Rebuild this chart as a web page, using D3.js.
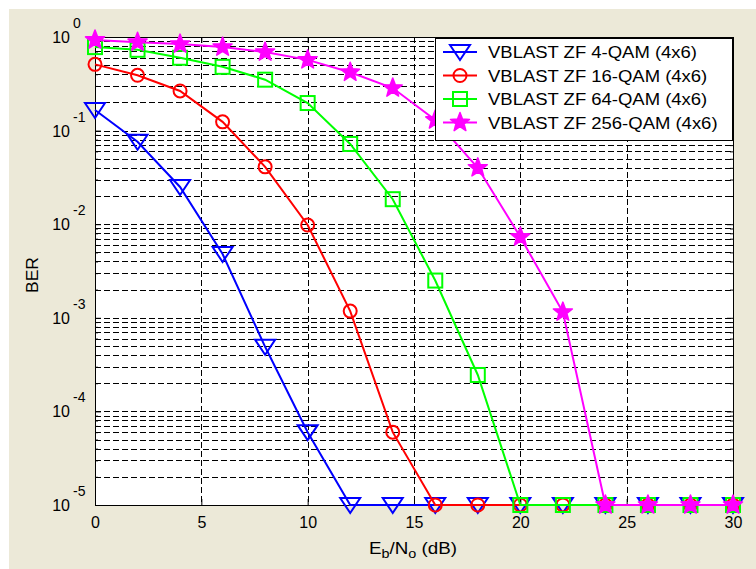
<!DOCTYPE html>
<html>
<head>
<meta charset="utf-8">
<script src="https://cdn.jsdelivr.net/npm/d3@7"></script>
<style>
  body { margin: 0; background: #fff; }
  text { font-family: "Liberation Sans", Arial, sans-serif; }
</style>
</head>
<body>
<div class="chart"></div>
<script>
// Eb/No values (dB)
var snr = [0, 2, 4, 6, 8, 10, 12, 14, 16, 18, 20, 22, 24, 26, 28, 30];

// BER values
var ber4 = [0.166, 0.076, 0.025, 0.0048, 0.00049, 0.00006, 1e-5, 1e-5, 1e-5, 1e-5, 1e-5, 1e-5, 1e-5, 1e-5, 1e-5, 1e-5];
var ber16 = [0.51, 0.39, 0.265, 0.124, 0.041, 0.0098, 0.00118, 0.00006, 1e-5, 1e-5, 1e-5, 1e-5, 1e-5, 1e-5, 1e-5, 1e-5];
var ber64 = [0.78, 0.73, 0.6, 0.48, 0.35, 0.197, 0.072, 0.0185, 0.0025, 0.000245, 1e-5, 1e-5, 1e-5, 1e-5, 1e-5, 1e-5];
var ber256 = [0.93, 0.88, 0.84, 0.78, 0.69, 0.57, 0.42, 0.285, 0.13, 0.04, 0.0073, 0.00115, 1e-5, 1e-5, 1e-5, 1e-5];

var seriesNames = ["VBLAST ZF 4-QAM (4x6)", "VBLAST ZF 16-QAM (4x6)", "VBLAST ZF 64-QAM (4x6)", "VBLAST ZF 256-QAM (4x6)"];
var xTicks = [0, 5, 10, 15, 20, 25, 30];
var yTicks = [0, -1, -2, -3, -4, -5]; // exponents

var series = [
    { name: seriesNames[0], values: ber4, color: "#0000ff", marker: "tri" },
    { name: seriesNames[1], values: ber16, color: "#ff0000", marker: "circle" },
    { name: seriesNames[2], values: ber64, color: "#00ff00", marker: "square" },
    { name: seriesNames[3], values: ber256, color: "#ff00ff", marker: "star" }
];

var svgWidth = 756, svgHeight = 569;
var margin = { top: 37, left: 95, right: 23, bottom: 64 };
var width = svgWidth - margin.left - margin.right;
var height = svgHeight - margin.top - margin.bottom;

var svg = d3.select(".chart").append("svg")
    .attr("width", svgWidth)
    .attr("height", svgHeight);

// figure background
svg.append("rect")
    .attr("x", 9).attr("y", 9)
    .attr("width", svgWidth - 9).attr("height", svgHeight - 9)
    .attr("fill", "#ece9d8");

var chartGroup = svg.append("g")
    .attr("transform", `translate(${margin.left}, ${margin.top})`);

var xScale = d3.scaleLinear().domain([0, 30]).range([0, width]);
var yScale = d3.scaleLog().domain([1e-5, 1]).range([height, 0]);

chartGroup.append("rect")
    .attr("width", width).attr("height", height)
    .attr("fill", "#fff");

// minor log values
var minor = [];
for (var e = -5; e < 0; e++) {
    for (var m = 2; m <= 9; m++) minor.push(m * Math.pow(10, e));
}
var majorY = yTicks.map(d => Math.pow(10, d));

// grid
var grid = chartGroup.append("g")
    .attr("stroke", "#000")
    .attr("stroke-width", 1)
    .attr("stroke-dasharray", "6,3")
    .attr("shape-rendering", "crispEdges");

grid.selectAll(".hy")
    .data(minor.concat(majorY.slice(1, 5)))
    .enter().append("line")
    .attr("x1", 0).attr("x2", width)
    .attr("y1", d => Math.round(yScale(d)) + 0.5)
    .attr("y2", d => Math.round(yScale(d)) + 0.5);

grid.selectAll(".vx")
    .data(xTicks.slice(1, 6))
    .enter().append("line")
    .attr("y1", 0).attr("y2", height)
    .attr("x1", d => Math.round(xScale(d)) + 0.5)
    .attr("x2", d => Math.round(xScale(d)) + 0.5);

// axes (ticks inside, box on)
var bottomAxis = d3.axisBottom(xScale).tickValues(xTicks).tickSize(-6).tickPadding(12).tickFormat(d3.format("d"));
var topAxis = d3.axisTop(xScale).tickValues(xTicks).tickSize(-6).tickFormat("");
var leftAxis = d3.axisLeft(yScale).tickValues(majorY).tickSize(-6).tickFormat("");
var rightAxis = d3.axisRight(yScale).tickValues(majorY).tickSize(-6).tickFormat("");
var leftMinor = d3.axisLeft(yScale).tickValues(minor).tickSize(-3).tickFormat("");
var rightMinor = d3.axisRight(yScale).tickValues(minor).tickSize(-3).tickFormat("");

function styleAxis(g) {
    g.select(".domain").remove();
    g.selectAll("line").attr("stroke", "#000");
    g.selectAll("text").attr("font-size", 16).attr("fill", "#000")
        .attr("font-family", "'Liberation Sans', Arial, sans-serif");
}

chartGroup.append("g").attr("transform", `translate(0, ${height})`).call(bottomAxis).call(styleAxis);
chartGroup.append("g").call(topAxis).call(styleAxis);
chartGroup.append("g").call(leftAxis).call(styleAxis);
chartGroup.append("g").attr("transform", `translate(${width}, 0)`).call(rightAxis).call(styleAxis);
chartGroup.append("g").call(leftMinor).call(styleAxis);
chartGroup.append("g").attr("transform", `translate(${width}, 0)`).call(rightMinor).call(styleAxis);

// frame
chartGroup.append("rect")
    .attr("x", 0.5).attr("y", 0.5)
    .attr("width", width).attr("height", height)
    .attr("fill", "none").attr("stroke", "#000")
    .attr("shape-rendering", "crispEdges");

// y tick labels 10^e
yTicks.forEach(function (e) {
    var y = yScale(Math.pow(10, e));
    chartGroup.append("text")
        .attr("font-size", 16)
        .attr("fill", "#000")
        .attr("x", -25).attr("y", y + 6)
        .attr("text-anchor", "end")
        .text("10");
    chartGroup.append("text")
        .attr("font-size", 14)
        .attr("fill", "#000")
        .attr("x", -22).attr("y", y - 9)
        .text(e === 0 ? "0" : "-" + Math.abs(e));
});

// axis titles
svg.append("text")
    .attr("transform", `translate(38, ${margin.top + height / 2 + 4}) rotate(-90)`)
    .attr("text-anchor", "middle")
    .attr("font-size", 17)
    .attr("textLength", 36)
    .attr("lengthAdjust", "spacingAndGlyphs")
    .text("BER");

var xl = svg.append("text")
    .attr("x", 369)
    .attr("y", 554)
    .attr("font-size", 17);
xl.append("tspan").text("E");
xl.append("tspan").attr("dy", 4).attr("font-size", 13).text("b");
xl.append("tspan").attr("dy", -4).text("/N");
xl.append("tspan").attr("dy", 4).attr("font-size", 13).text("o");
xl.append("tspan").attr("dy", -4).text(" (dB)");
xl.attr("textLength", 88).attr("lengthAdjust", "spacingAndGlyphs");

// markers
function starPath(r) {
    var pts = [];
    for (var i = 0; i < 10; i++) {
        var rr = i % 2 === 0 ? r : r * 0.42;
        var a = -Math.PI / 2 + i * Math.PI / 5;
        pts.push([rr * Math.cos(a), rr * Math.sin(a)]);
    }
    return "M" + pts.map(p => p.join(",")).join("L") + "Z";
}

function drawMarker(g, type, color) {
    if (type === "tri") {
        g.append("path").attr("d", "M-10,-7L10,-7L0,8Z")
            .attr("fill", "none").attr("stroke", color).attr("stroke-width", 2);
    } else if (type === "circle") {
        g.append("circle").attr("r", 6.5)
            .attr("fill", "none").attr("stroke", color).attr("stroke-width", 2);
    } else if (type === "square") {
        g.append("rect").attr("x", -7).attr("y", -7).attr("width", 14).attr("height", 14)
            .attr("fill", "none").attr("stroke", color).attr("stroke-width", 2);
    } else {
        g.append("path").attr("d", starPath(10))
            .attr("fill", color).attr("stroke", color).attr("stroke-width", 1.5)
            .attr("stroke-linejoin", "round");
    }
}

var line = d3.line()
    .x(d => xScale(d[0]))
    .y(d => yScale(d[1]));

series.forEach(function (s) {
    var pts = snr.map((x, i) => [x, s.values[i]]);
    chartGroup.append("path")
        .attr("d", line(pts))
        .attr("fill", "none")
        .attr("stroke", s.color)
        .attr("stroke-width", 2);
    pts.forEach(function (p) {
        var g = chartGroup.append("g")
            .attr("transform", `translate(${xScale(p[0])}, ${yScale(p[1])})`);
        drawMarker(g, s.marker, s.color);
    });
});

// legend
var legend = svg.append("g").attr("transform", "translate(435, 38)");
legend.append("rect")
    .attr("x", 0.5).attr("y", 0.5)
    .attr("width", 297).attr("height", 102)
    .attr("fill", "#fff").attr("stroke", "#000")
    .attr("shape-rendering", "crispEdges");

var legendTexts = [];
series.forEach(function (s, i) {
    var y = 14 + i * 23.5;
    legend.append("line")
        .attr("x1", 8).attr("x2", 42)
        .attr("y1", y).attr("y2", y)
        .attr("stroke", s.color).attr("stroke-width", 2);
    var g = legend.append("g").attr("transform", `translate(25, ${y})`);
    drawMarker(g, s.marker, s.color);
    legendTexts.push(legend.append("text")
        .attr("x", 53).attr("y", y + 6)
        .attr("font-size", 16)
        .text(s.name));
});
// stretch legend text to the wide look of the original font
var k = 209 / legendTexts[0].node().getComputedTextLength();
legendTexts.forEach(function (t) {
    t.attr("textLength", t.node().getComputedTextLength() * k)
        .attr("lengthAdjust", "spacingAndGlyphs");
});
</script>
</body>
</html>
